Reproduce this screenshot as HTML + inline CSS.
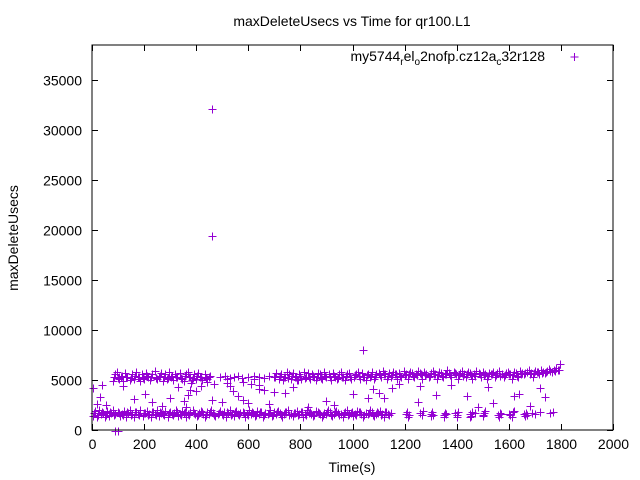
<!DOCTYPE html>
<html><head><meta charset="utf-8"><style>
html,body{margin:0;padding:0;background:#fff;}
svg{display:block;font-family:"Liberation Sans",sans-serif;}
</style></head><body>
<svg id="chart" width="640" height="480">
<rect width="640" height="480" fill="#fff"/>
<text x="352" y="26" font-size="14" text-anchor="middle">maxDeleteUsecs vs Time for qr100.L1</text>
<text transform="translate(18,238) rotate(-90)" font-size="14" text-anchor="middle">maxDeleteUsecs</text>
<text x="352" y="472" font-size="14" text-anchor="middle">Time(s)</text>
<g id="axes"></g>
<g id="points"></g>
<rect x="92" y="45" width="521" height="385" fill="none" stroke="#000" stroke-width="1"/>
<g>
<text x="545" y="61" font-size="14" text-anchor="end">my5744<tspan font-size="10" dy="4">r</tspan><tspan dy="-4">el</tspan><tspan font-size="10" dy="4">o</tspan><tspan dy="-4">2nofp.cz12a</tspan><tspan font-size="10" dy="4">c</tspan><tspan dy="-4">32r128</tspan></text>
<path d="M570.5 57h8M574.5 53v8" stroke="#9400d3" stroke-width="1"/>
</g>
</svg>
<script>
const xTicks=[0,200,400,600,800,1000,1200,1400,1600,1800,2000];
const yTicks=[0,5000,10000,15000,20000,25000,30000,35000];
const lowT=[2,10,18,26,34,42,50,58,66,74,82,90,98,106,114,122,130,138,146,154,162,170,178,186,194,202,210,218,226,234,242,250,258,266,274,282,290,298,306,314,322,330,338,346,354,362,370,378,386,394,402,410,418,426,434,442,450,458,466,474,482,490,498,506,514,522,530,538,546,554,562,570,578,586,594,602,610,618,626,634,642,650,658,666,674,682,690,698,706,714,722,730,738,746,754,762,770,778,786,794,802,810,818,826,834,842,850,858,866,874,882,890,898,906,914,922,930,938,946,954,962,970,978,986,994,1002,1010,1018,1026,1034,1042,1050,1058,1066,1074,1082,1090,1098,1106,1114,1122,1130,1138,1146];
const lowV=[1400,1950,1300,2050,1650,1700,1350,1900,1450,1700,2000,1600,1850,1400,1650,1950,1350,1700,2050,1600,1300,1850,1650,2000,1450,1700,1950,1600,1350,1850,1650,2050,1450,1700,1600,1900,1300,1850,1650,1700,2000,1450,1600,1950,1700,1350,1650,1850,2050,1600,1450,1700,1950,1650,1300,1850,1600,2000,1700,1450,1650,1950,1600,1850,1350,1700,2050,1650,1450,1950,1600,1700,1850,1300,1650,2000,1600,1700,1450,1950,1650,1850,1350,1700,1600,2050,1450,1850,1650,1950,1700,1300,1600,1850,2000,1650,1450,1700,1950,1600,1850,1350,1650,2050,1700,1600,1450,1950,1850,1650,1300,1700,1600,2000,1850,1450,1650,1950,1700,1600,1350,1850,2050,1650,1700,1450,1600,1950,1850,1650,1300,1700,1600,2050,1850,1450,1650,1700,1950,1600,1350,1850,1650,1700];
const low2T=[6,22,38,54,70,86,102,118,134,150,166,182,198,214,230,246,262,278,294,310,326,342,358,374,390,406,422,438,454,470,486,502,518,534,550,566,582,598,614,630,646,662,678,694,710,726,742,758,774,790,806,822,838,854,870,886,902,918,934,950,966,982,998,1014,1030,1046,1062,1078,1094,1110,1126,1142];
const low2V=[1750,1500,1850,1550,1800,1500,1750,1550,1800,1500,1850,1550,1750,1500,1800,1550,1850,1500,1750,1550,1800,1500,1850,1550,1750,1500,1800,1550,1850,1500,1750,1550,1800,1500,1850,1550,1750,1500,1800,1550,1850,1500,1750,1550,1800,1500,1850,1550,1750,1500,1800,1550,1850,1500,1750,1550,1800,1500,1850,1550,1750,1500,1800,1550,1850,1500,1750,1550,1800,1500,1850,1550];
const lowSparseT=[1205,1210,1215,1260,1265,1270,1300,1305,1310,1350,1355,1360,1395,1400,1405,1450,1455,1460,1470,1500,1505,1510,1560,1565,1570,1600,1605,1615,1620,1660,1665,1670,1690,1700,1720,1760,1770,1212,1302,1352,1402,1452,1502,1562,1612,1662];
const lowSparseV=[1600,1800,1500,1700,1500,1900,1650,1800,1550,1500,1750,1600,1700,1500,1850,1600,1450,1800,1700,1550,1700,1900,1500,1750,1600,1650,1500,1800,1900,1600,1700,1500,1750,1600,1800,1700,1850,1350,1400,1350,1300,1350,1400,1350,1300,1400];
const highT=[80,88,96,104,112,120,128,136,144,152,160,168,176,184,192,200,208,216,224,232,240,248,256,264,272,280,288,296,304,312,320,328,336,344,352,360,368,376,384,392,400,408,416,424,432,440,448,700,708,716,724,732,740,748,756,764,772,780,788,796,804,812,820,828,836,844,852,860,868,876,884,892,900,908,916,924,932,940,948,956,964,972,980,988,996,1004,1012,1020,1028,1036,1044,1052,1060,1068,1076,1084,1092,1100,1108,1116,1124,1132,1140,1148,1156,1164,1172,1180,1188,1196,1204,1212,1220,1228,1236,1244,1252,1260,1268,1276,1284,1292,1300,1308,1316,1324,1332,1340,1348,1356,1364,1372,1380,1388,1396,1404,1412,1420,1428,1436,1444,1452,1460,1468,1476,1484,1492,1500,1508,1516,1524,1532,1540,1548,1556,1564,1572,1580,1588,1596,1604,1612,1620,1628,1636,1644,1652,1660,1668,1676,1684,1692,1700,1708,1716,1724,1732,1740,1748,1756,1764,1772,1780,1788,1796];
const highV=[4900,5600,5800,5100,5300,4900,5700,5300,5000,5600,5100,5800,5300,4900,5600,5100,5700,5300,5000,5600,5900,5100,5300,5700,4900,5600,5100,5800,5300,5000,5600,5300,5700,5100,4900,5600,5800,5300,5000,5600,5100,5700,5300,5000,5600,5100,5300,5300,5700,5100,5600,5000,5300,5800,5600,5100,5700,5300,5000,5600,5100,5800,5300,5700,5100,5600,5300,5000,5700,5600,5100,5800,5300,5600,5000,5700,5300,5100,5600,5800,5300,5000,5600,5700,5100,5300,5600,5800,5100,5700,5300,5000,5600,5300,5800,5100,5600,5700,5300,5900,5600,5100,5700,5300,5800,5600,5100,5700,5300,5900,5600,5100,5800,5700,5300,5600,5900,5700,5100,5800,5600,5300,5700,5900,5600,5100,5800,5700,5300,5600,6000,5700,5300,5800,5600,5100,5700,5900,5600,5300,5800,5700,5100,5600,5900,5700,5300,5800,5600,5100,5700,5600,5800,5300,5700,5900,5600,5300,5700,5800,5600,5100,5800,5700,5300,5900,5700,5600,5800,6000,5700,5300,5900,5800,5600,6000,5800,5700,5900,6100,5800,6000,6200,6000,6600];
const high2T=[84,100,116,132,148,164,180,196,212,228,244,260,276,292,308,324,340,356,372,388,404,420,436,452,490,510,530,545,560,575,600,620,640,660,680,704,720,736,752,768,784,800,816,832,848,864,880,896,912,928,944,960,976,992,1008,1024,1040,1056,1072,1088,1104,1120,1136,1152,1168,1184,1200,1216,1232,1248,1264,1280,1296,1312,1328,1344,1360,1376,1392,1408,1424,1440,1456,1472,1488,1504,1520,1536,1552,1568,1584,1600,1616,1632,1648,1664,1680,1696,1712,1728,1744,1760,1776,1792];
const high2V=[5300,5200,5400,5300,5200,5400,5300,5200,5400,5300,5200,5400,5300,5200,5400,5300,5200,5400,5300,5200,5400,5300,5200,5400,5300,5400,5200,5300,5400,5200,5300,5400,5300,5200,5400,5300,5400,5300,5200,5400,5300,5400,5200,5300,5400,5300,5200,5400,5300,5400,5200,5300,5400,5300,5500,5400,5300,5500,5400,5300,5500,5600,5400,5500,5600,5400,5500,5600,5400,5500,5600,5500,5400,5600,5500,5400,5600,5500,5700,5500,5400,5600,5500,5400,5600,5500,5400,5600,5500,5400,5500,5600,5500,5400,5600,5700,5600,5700,5800,5700,5800,5900,5900,6000];
const midT=[5,20,30,40,55,105,120,160,205,230,270,300,330,355,360,370,375,380,400,420,440,460,470,500,520,530,540,560,580,600,610,620,640,660,680,700,740,770,790,830,900,930,1000,1060,1080,1100,1120,1150,1180,1250,1260,1320,1380,1440,1480,1520,1540,1620,1640,1680,1720,1740];
const midV=[4200,2600,3300,4500,2500,5300,4400,3100,3600,2800,2400,3200,4300,2900,2300,3500,4000,4700,3900,4400,4800,3000,4600,2800,5100,4400,3900,3400,3000,2700,4600,5100,4100,4000,2600,3800,3700,4300,5000,2300,2900,2500,3600,3200,4100,3700,3200,4200,4600,2800,4400,3500,4500,3400,2300,4300,2700,3400,3600,2400,4200,3300];
const outT=[460,460,1042,90,100,520,580,640];
const outV=[32100,19400,8000,-100,-100,4700,4800,4500];

const x0=92,x1=613,y0=430,yTop=45,xMax=2000,yMax=38500;
const sx=t=>x0+t/xMax*(x1-x0);
const sy=v=>y0-v/yMax*(y0-yTop);
const NS="http://www.w3.org/2000/svg";
const axes=document.getElementById('axes');
xTicks.forEach(t=>{
 const X=Math.round(sx(t))+0.5;
 const p=document.createElementNS(NS,'path');
 p.setAttribute('d',`M${X} ${y0}v-6M${X} ${yTop}v6`);
 p.setAttribute('stroke','#000');
 
 
 axes.appendChild(p);
 const tx=document.createElementNS(NS,'text');
 tx.setAttribute('x',X);tx.setAttribute('y',y0+19);
 tx.setAttribute('font-size','14');tx.setAttribute('text-anchor','middle');
 tx.textContent=t;
 
 
 axes.appendChild(tx);
});
yTicks.forEach(v=>{
 const Y=Math.round(sy(v))+0.5;
 const p=document.createElementNS(NS,'path');
 p.setAttribute('d',`M${x0} ${Y}h6M${x1} ${Y}h-6`);
 p.setAttribute('stroke','#000');
 
 
 axes.appendChild(p);
 const tx=document.createElementNS(NS,'text');
 tx.setAttribute('x',x0-10);tx.setAttribute('y',Y+5);
 tx.setAttribute('font-size','14');tx.setAttribute('text-anchor','end');
 tx.textContent=v;
 
 
 axes.appendChild(tx);
});
const pts=document.getElementById('points');
let d='';
function add(T,V){T.forEach((t,i)=>{const X=Math.round(sx(t))+0.5,Y=Math.round(sy(V[i]))+0.5;d+=`M${X-4} ${Y}h8M${X} ${Y-4}v8`;});}
add(lowT,lowV);add(low2T,low2V);add(lowSparseT,lowSparseV);add(highT,highV);add(high2T,high2V);add(midT,midV);add(outT,outV);
const path=document.createElementNS(NS,'path');
path.setAttribute('d',d);path.setAttribute('stroke','#9400d3');path.setAttribute('fill','none');


pts.appendChild(path);
</script>
</body></html>
